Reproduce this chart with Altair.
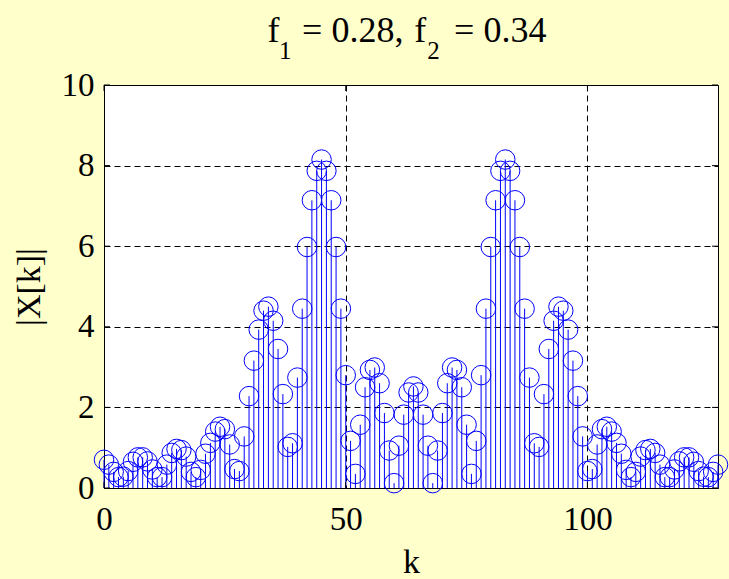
import altair as alt
import pandas as pd

# DFT bin index and magnitude
k_values = list(range(128))
magnitudes = [
    0.70, 0.58, 0.40, 0.27, 0.28, 0.42, 0.65, 0.76, 0.76, 0.66,
    0.46, 0.27, 0.27, 0.58, 0.87, 0.97, 0.94, 0.78, 0.40, 0.27,
    0.45, 0.85, 1.12, 1.40, 1.52, 1.46, 1.08, 0.47, 0.42, 1.28,
    2.28, 3.16, 3.93, 4.40, 4.50, 4.15, 3.45, 2.33, 1.02, 1.11,
    2.74, 4.45, 5.98, 7.14, 7.87, 8.15, 7.87, 7.14, 5.98, 4.45,
    2.80, 1.17, 0.35, 1.57, 2.50, 2.93, 2.99, 2.60, 1.86, 0.93,
    0.12, 1.05, 1.82, 2.37, 2.52, 2.37, 1.82, 1.05, 0.12, 0.93,
    1.86, 2.60, 2.99, 2.93, 2.50, 1.57, 0.35, 1.17, 2.80, 4.45,
    5.98, 7.14, 7.87, 8.15, 7.87, 7.14, 5.98, 4.45, 2.74, 1.11,
    1.02, 2.33, 3.45, 4.15, 4.50, 4.40, 3.93, 3.16, 2.28, 1.28,
    0.42, 0.47, 1.08, 1.46, 1.52, 1.40, 1.12, 0.85, 0.45, 0.27,
    0.40, 0.78, 0.94, 0.97, 0.87, 0.58, 0.27, 0.27, 0.46, 0.66,
    0.76, 0.76, 0.65, 0.42, 0.28, 0.27, 0.40, 0.58,
]
x_ticks = [0, 50, 100]
y_ticks = [0, 2, 4, 6, 8, 10]

# title pieces: text, font size, role (subscripts are separate pieces)
title_parts = [
    ("f", 36, "main", 163.6),
    ("1", 25, "sub", 174.9),
    ("= 0.28,", 36, "main", 198.1),
    ("f", 36, "main", 310.3),
    ("2", 25, "sub", 323.3),
    ("= 0.34", 36, "main", 350.1),
]

W, H = 614, 403
FONT = "Liberation Serif, Times New Roman, Times, serif"
BLUE = "#0000FF"

df = pd.DataFrame({"k": k_values, "v": magnitudes})

xs = alt.Scale(domain=[0, 127], nice=False, zero=False)
ys = alt.Scale(domain=[0, 10], nice=False)

common_axis = dict(
    grid=True, gridDash=[6, 4], gridColor="black", gridWidth=1,
    domain=False, ticks=False,
    labelFont=FONT, labelFontSize=33, labelColor="black",
    titleFont=FONT, titleFontSize=34, titleFontWeight="normal", titleColor="black",
)

xaxis = alt.Axis(
    values=x_ticks, labelPadding=15, labelFlush=False,
    title="k", titleX=W / 2, titleY=84, titleBaseline="alphabetic", titleAlign="center",
    **common_axis,
)
yaxis = alt.Axis(
    values=y_ticks, labelPadding=10, labelFlush=False,
    title="|X[k]|", titleX=-75, titleY=H / 2, titleAngle=270,
    titleBaseline="middle", titleAlign="center",
    **common_axis,
)

X = lambda: alt.X("k:Q", scale=xs, axis=xaxis)
Y = lambda: alt.Y("v:Q", scale=ys, axis=yaxis)

stems = alt.Chart(df).mark_rule(color=BLUE, strokeWidth=1).encode(
    x=X(), y=Y(), y2=alt.datum(0),
)

circles = alt.Chart(df).mark_point(
    shape="circle", filled=False, size=380, color=BLUE, strokeWidth=1, opacity=1
).encode(x=X(), y=Y())

yt = pd.DataFrame({"v": y_ticks})
xt = pd.DataFrame({"k": x_ticks})

ytick_l = alt.Chart(yt).mark_rule(color="black", strokeWidth=1).encode(
    y=Y(), x=alt.value(0), x2=alt.value(6))
ytick_r = alt.Chart(yt).mark_rule(color="black", strokeWidth=1).encode(
    y=Y(), x=alt.value(W - 6), x2=alt.value(W))
xtick_b = alt.Chart(xt).mark_rule(color="black", strokeWidth=1).encode(
    x=X(), y=alt.value(H - 6), y2=alt.value(H))
xtick_t = alt.Chart(xt).mark_rule(color="black", strokeWidth=1).encode(
    x=X(), y=alt.value(0), y2=alt.value(6))

title_layers = []
for text, size, kind, xpos in title_parts:
    ypos = -43.3 if kind == "main" else -26.5
    title_layers.append(
        alt.Chart(pd.DataFrame({"t": [text]})).mark_text(
            font=FONT, fontSize=size, align="left", baseline="alphabetic", color="black"
        ).encode(
            text="t:N",
            x=alt.value(xpos),
            y=alt.value(ypos),
        )
    )

chart = alt.layer(
    stems, circles, ytick_l, ytick_r, xtick_b, xtick_t, *title_layers
).properties(
    width=W, height=H,
    autosize=alt.AutoSizeParams(type="none"),
    padding={"left": 104, "top": 85, "right": 11, "bottom": 91},
).configure(
    background="#FFFFCC", font=FONT
).configure_text(
    font=FONT
).configure_view(
    fill="white", stroke="black", strokeWidth=1
)

chart.save("out.html", embed_options={"renderer": "svg", "actions": False})
